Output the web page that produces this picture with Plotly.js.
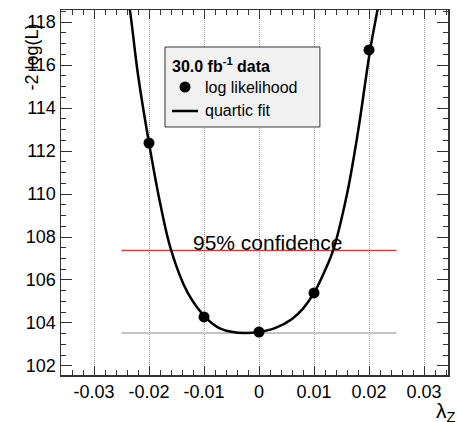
<!DOCTYPE html>
<html>
<head>
<meta charset="utf-8">
<script src="https://cdn.plot.ly/plotly-3.0.1.min.js"></script>
<style>html,body{margin:0;padding:0;background:#fff;}#chart{width:457px;height:422px;}</style>
</head>
<body>
<div id="chart"></div>
<script>
// Log-likelihood scan points
const lambdaPoints = [-0.02, -0.01, 0.0, 0.01, 0.02];
const logLPoints = [112.37, 104.28, 103.58, 105.40, 116.70];

// Quartic fit curve
const fitX = [-0.0240, -0.02345, -0.0220, -0.0200, -0.0180, -0.0160, -0.0130, -0.0098, -0.0075, -0.0050, -0.0025, 0.0, 0.0030, 0.0060, 0.0080, 0.0100, 0.0120, 0.0135, 0.0160, 0.0180, 0.0202, 0.0215, 0.0222];
const fitY = [119.30, 118.51, 115.55, 112.37, 109.60, 107.40, 105.42, 104.28, 103.80, 103.59, 103.53, 103.58, 103.77, 104.19, 104.67, 105.40, 106.45, 107.40, 110.00, 112.90, 116.70, 118.51, 119.50];

// Reference levels
const bandX = [-0.025, 0.025];
const confLevel = 107.37;
const minLevel = 103.53;

const xTicks = [-0.03, -0.02, -0.01, 0, 0.01, 0.02, 0.03];
const xTickText = ['-0.03', '-0.02', '-0.01', '0', '0.01', '0.02', '0.03'];
const yTicks = [102, 104, 106, 108, 110, 112, 114, 116, 118];

const traces = [
  {x: bandX, y: [minLevel, minLevel], mode: 'lines', line: {color: '#c4c4c4', width: 2}, hoverinfo: 'skip', showlegend: false},
  {x: bandX, y: [confLevel, confLevel], mode: 'lines', line: {color: '#d63a3a', width: 1.5}, hoverinfo: 'skip', showlegend: false},
  {x: fitX, y: fitY, mode: 'lines', line: {color: '#000', width: 2.5, shape: 'spline', smoothing: 1}, showlegend: false},
  {x: lambdaPoints, y: logLPoints, mode: 'markers', marker: {color: '#000', size: 11}, showlegend: false}
];

const F = 'Liberation Sans, Arial, Helvetica, sans-serif';
const lx = 0.2687, lx1 = 0.669, ly0 = 0.6795, ly1 = 0.8986;

const layout = {
  width: 457, height: 422,
  margin: {l: 61, r: 9, t: 10, b: 47},
  paper_bgcolor: '#fff', plot_bgcolor: '#fff',
  font: {family: F, color: '#000'},
  xaxis: {
    range: [-0.036, 0.03436],
    tickvals: xTicks, ticktext: xTickText,
    ticks: 'inside', ticklen: 9, tickwidth: 1, tickcolor: '#333',
    minor: {dtick: 0.002, ticks: 'inside', ticklen: 5, tickcolor: '#333', showgrid: false},
    showgrid: true, gridcolor: '#9a9a9a', griddash: '1px,1px', gridwidth: 1,
    zeroline: false,
    showline: true, linecolor: '#333', linewidth: 1.5, mirror: 'allticks',
    tickfont: {size: 18, family: F}
  },
  yaxis: {
    range: [101.58, 118.56],
    tickvals: yTicks,
    ticks: 'inside', ticklen: 11, tickwidth: 1, tickcolor: '#333',
    minor: {dtick: 0.5, ticks: 'inside', ticklen: 5, tickcolor: '#333', showgrid: false},
    showgrid: false, zeroline: false,
    showline: true, linecolor: '#333', linewidth: 1.5, mirror: 'allticks',
    tickfont: {size: 18, family: F}
  },
  shapes: [
    {type: 'rect', xref: 'paper', yref: 'paper', x0: lx, x1: lx1, y0: ly0, y1: ly1, fillcolor: '#f1f1f1', line: {color: '#333', width: 1}},
    {type: 'circle', xref: 'paper', yref: 'paper', xsizemode: 'pixel', ysizemode: 'pixel', xanchor: (185 - 61) / 387, yanchor: (375 - 87) / 365, x0: -5.5, x1: 5.5, y0: -5.5, y1: 5.5, fillcolor: '#000', line: {color: '#000', width: 0}},
    {type: 'line', xref: 'paper', yref: 'paper', x0: (172 - 61) / 387, x1: (198 - 61) / 387, y0: (375 - 111) / 365, y1: (375 - 111) / 365, line: {color: '#000', width: 2.5}}
  ],
  annotations: [
    {xref: 'paper', yref: 'paper', x: (170 - 61) / 387, y: (375 - 65) / 365, xanchor: 'left', yanchor: 'middle', showarrow: false, text: '<b>30.0 fb<sup>-1</sup> data</b>', font: {size: 16, family: F}},
    {xref: 'paper', yref: 'paper', x: (203 - 61) / 387, y: (375 - 87) / 365, xanchor: 'left', yanchor: 'middle', showarrow: false, text: 'log likelihood', font: {size: 16, family: F}},
    {xref: 'paper', yref: 'paper', x: (203 - 61) / 387, y: (375 - 110) / 365, xanchor: 'left', yanchor: 'middle', showarrow: false, text: 'quartic fit', font: {size: 16, family: F}},
    {xref: 'x', yref: 'y', x: 0.0016, y: confLevel, xanchor: 'center', yanchor: 'bottom', yshift: -5, showarrow: false, text: '95% confidence', font: {size: 21, family: F}},
    {xref: 'paper', yref: 'paper', x: (26 - 61) / 387, y: 1.0, xanchor: 'center', yanchor: 'top', xshift: 5, yshift: -12, textangle: -90, showarrow: false, text: '-2 log(L)', font: {size: 18, family: F}},
    {xref: 'paper', yref: 'paper', x: (434 - 61) / 387, y: (375 - 412) / 365, xanchor: 'left', yanchor: 'middle', showarrow: false, text: 'λ<sub>Z</sub>', font: {size: 21, family: F}}
  ]
};

Plotly.newPlot('chart', traces, layout, {displayModeBar: false, staticPlot: true});
</script>
</body>
</html>
